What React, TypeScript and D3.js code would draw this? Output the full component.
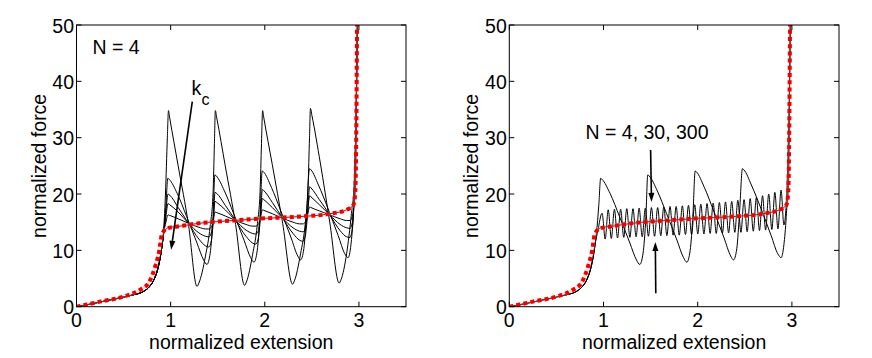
import React from "react";
import * as d3 from "d3";

type Pt = [number, number];

// axis ticks
const xTicks = [0, 1, 2, 3];
const yTicks = [0, 10, 20, 30, 40, 50];

// shared toe of the black curves (normalized extension, normalized force)
const toeBlack: Pt[] = [
  [0, 0], [0.1, 0.3], [0.2, 0.65], [0.3, 1.0], [0.4, 1.35], [0.5, 1.7],
  [0.6, 2.1], [0.7, 2.6], [0.76, 3.3], [0.82, 4.7], [0.86, 6.5], [0.89, 8.8], [0.91, 11],
];

// continuum limit (red dotted)
const redCurve: Pt[] = [
  [0, 0], [0.1, 0.35], [0.25, 0.9], [0.5, 1.8], [0.675, 3.0], [0.765, 4.2], [0.835, 7.1],
  [0.88, 10], [0.905, 12.7], [0.96, 13.9], [1.1, 14.3], [1.3, 14.8], [1.67, 15.3],
  [2.02, 15.7], [2.38, 16], [2.73, 16.6], [2.87, 17.2], [2.94, 18], [2.96, 20],
  [2.97, 27.8], [2.98, 50],
];

// smooth black curve (large k_c / N = 300)
const smoothTail: Pt[] = [
  [0.93, 13.2], [0.97, 14], [1.1, 14.3], [1.3, 14.8], [1.67, 15.3], [2.02, 15.7],
  [2.38, 16], [2.73, 16.6], [2.87, 17.2], [2.94, 18], [2.96, 20], [2.97, 27.8], [2.98, 50],
];

// N = 4 curves for increasing k_c
const kc1Tail: Pt[] = [
  [0.92, 12.5], [0.945, 20], [0.965, 30], [0.977, 34.8], [0.99, 33.5], [1.08, 25], [1.19, 14.5],
  [1.28, 3.6], [1.30, 4.2], [1.37, 9], [1.42, 14.3], [1.45, 20], [1.465, 29], [1.475, 34.8],
  [1.49, 33.5], [1.58, 25], [1.69, 14.6], [1.785, 3.8], [1.805, 4.4], [1.87, 9.2], [1.92, 14.5],
  [1.95, 20.5], [1.965, 29], [1.977, 34.8], [1.99, 33.5], [2.08, 25.2], [2.19, 14.8], [2.295, 4],
  [2.315, 4.6], [2.38, 9.4], [2.43, 14.8], [2.46, 21.5], [2.475, 30], [2.485, 35.2], [2.5, 34],
  [2.59, 25.5], [2.69, 15], [2.79, 4.2], [2.81, 4.8], [2.87, 9.5], [2.92, 16.5], [2.95, 22],
  [2.965, 30], [2.98, 45], [2.985, 50],
];
const kc2Tail: Pt[] = [
  [0.925, 13], [0.95, 18], [0.97, 22.8], [0.985, 22.6], [1.07, 20.1], [1.17, 16], [1.28, 11.3],
  [1.35, 8.3], [1.385, 7.5], [1.42, 9.5], [1.45, 16], [1.47, 23.4], [1.485, 23.2], [1.57, 20.6],
  [1.67, 16.5], [1.78, 11.8], [1.85, 8.7], [1.885, 7.9], [1.92, 10], [1.95, 16.5], [1.973, 24.1],
  [1.988, 23.9], [2.07, 21.2], [2.17, 17], [2.28, 12.2], [2.35, 9], [2.38, 8.3], [2.415, 10.3],
  [2.445, 17], [2.475, 24.5], [2.49, 24.3], [2.57, 21.6], [2.67, 17.5], [2.78, 12.6], [2.85, 9.4],
  [2.885, 8.7], [2.915, 11], [2.94, 16], [2.955, 21], [2.97, 32], [2.98, 45], [2.985, 50],
];
const kc3Tail: Pt[] = [
  [0.925, 13], [0.95, 17], [0.972, 20], [0.99, 19.8], [1.08, 17.6], [1.19, 14.8], [1.30, 12],
  [1.37, 10.8], [1.405, 10.6], [1.43, 11.5], [1.45, 14.5], [1.472, 20.3], [1.49, 20.1], [1.58, 18],
  [1.69, 15.3], [1.80, 12.5], [1.87, 11.3], [1.905, 11.1], [1.93, 12], [1.95, 15], [1.975, 20.8],
  [1.99, 20.6], [2.08, 18.5], [2.19, 15.7], [2.30, 13], [2.37, 11.8], [2.405, 11.6], [2.43, 12.5],
  [2.45, 15.5], [2.477, 21.3], [2.49, 21.1], [2.58, 19], [2.69, 16.3], [2.80, 13.5], [2.87, 12.4],
  [2.905, 12.3], [2.93, 14], [2.95, 20], [2.965, 30], [2.98, 45], [2.985, 50],
];
const kc4Tail: Pt[] = [
  [0.925, 13], [0.95, 16], [0.972, 18.3], [0.99, 18.1], [1.08, 16.8], [1.19, 14.8], [1.30, 13.1],
  [1.37, 12.5], [1.405, 12.4], [1.43, 13], [1.45, 15], [1.472, 18.7], [1.49, 18.5], [1.58, 17.2],
  [1.69, 15.3], [1.80, 13.6], [1.87, 13], [1.905, 12.9], [1.93, 13.4], [1.95, 15.5], [1.975, 19.2],
  [1.99, 19], [2.08, 17.6], [2.19, 15.7], [2.30, 14], [2.37, 13.4], [2.405, 13.3], [2.43, 13.8],
  [2.45, 16], [2.477, 19.7], [2.49, 19.5], [2.58, 18.1], [2.69, 16.3], [2.80, 14.6], [2.87, 14],
  [2.905, 13.9], [2.93, 15], [2.95, 20], [2.965, 30], [2.98, 45], [2.985, 50],
];
const kc5Tail: Pt[] = [
  [0.925, 13], [0.95, 15], [0.972, 16.3], [0.99, 16.2], [1.08, 15.6], [1.19, 14.8], [1.30, 14.1],
  [1.37, 13.8], [1.405, 13.8], [1.43, 14.1], [1.45, 15], [1.472, 16.8], [1.49, 16.7], [1.58, 16.1],
  [1.69, 15.3], [1.80, 14.6], [1.87, 14.3], [1.905, 14.3], [1.93, 14.6], [1.95, 15.5], [1.975, 17.2],
  [1.99, 17.1], [2.08, 16.5], [2.19, 15.7], [2.30, 15], [2.37, 14.7], [2.405, 14.7], [2.43, 15],
  [2.45, 16], [2.477, 17.7], [2.49, 17.6], [2.58, 17], [2.69, 16.3], [2.80, 15.6], [2.87, 15.3],
  [2.905, 15.3], [2.93, 16], [2.95, 20], [2.965, 30], [2.98, 45], [2.985, 50],
];

// N = 30 oscillation (right panel)
const n30Tail: Pt[] = [
  [0.94, 13.5], [0.985, 16.6], [1.018, 12.0], [1.05, 17.2], [1.083, 12.1], [1.116, 17.3], [1.149, 12.2],
  [1.182, 17.3], [1.215, 12.3], [1.247, 17.4], [1.28, 12.3], [1.313, 17.4], [1.346, 12.4],
  [1.378, 17.5], [1.411, 12.4], [1.444, 17.5], [1.477, 12.5], [1.509, 17.6], [1.542, 12.5],
  [1.575, 17.6], [1.608, 12.6], [1.64, 17.7], [1.673, 12.6], [1.706, 17.8], [1.739, 12.7],
  [1.771, 17.8], [1.804, 12.7], [1.837, 17.9], [1.87, 12.8], [1.902, 18.0], [1.935, 12.8],
  [1.968, 18.1], [2.001, 12.9], [2.033, 18.2], [2.066, 12.9], [2.099, 18.3], [2.132, 13.0],
  [2.164, 18.4], [2.197, 13.0], [2.23, 18.5], [2.263, 13.1], [2.295, 18.6], [2.328, 13.1],
  [2.361, 18.7], [2.394, 13.2], [2.426, 18.9], [2.459, 13.2], [2.492, 19.0], [2.525, 13.3],
  [2.557, 19.2], [2.59, 13.4], [2.623, 19.4], [2.656, 13.5], [2.688, 19.7], [2.721, 13.6],
  [2.754, 20.0], [2.787, 13.7], [2.819, 20.3], [2.852, 13.8], [2.885, 20.7], [2.915, 14.5],
  [2.945, 20], [2.96, 28], [2.975, 40], [2.985, 50],
];

const smooth = toeBlack.concat(smoothTail);
const kc1 = toeBlack.concat(kc1Tail);
const kc2 = toeBlack.concat(kc2Tail);
const kc3 = toeBlack.concat(kc3Tail);
const kc4 = toeBlack.concat(kc4Tail);
const kc5 = toeBlack.concat(kc5Tail);
const n30 = toeBlack.concat(n30Tail);

const FONT = "'Liberation Sans', Arial, Helvetica, sans-serif";
const TOP = 25;
const BOTTOM = 306.7;

function Arrow({ from, to }: { from: Pt; to: Pt }) {
  const [x1, y1] = from;
  const [x2, y2] = to;
  const a = Math.atan2(y2 - y1, x2 - x1);
  const len = 9, w = 3;
  const bx = x2 - len * Math.cos(a), by = y2 - len * Math.sin(a);
  const p = `${x2},${y2} ${bx + w * Math.sin(a)},${by - w * Math.cos(a)} ${bx - w * Math.sin(a)},${by + w * Math.cos(a)}`;
  return (
    <g>
      <line x1={x1} y1={y1} x2={bx} y2={by} stroke="#000" strokeWidth={1.6} />
      <polygon points={p} fill="#000" />
    </g>
  );
}

function Panel({ id, left, right, curves, children }: any) {
  const x = d3.scaleLinear().domain([0, 3.5]).range([left, right]);
  const y = d3.scaleLinear().domain([0, 50]).range([BOTTOM, TOP]);
  const line = d3.line<Pt>().x((d) => x(d[0])).y((d) => y(d[1])).curve(d3.curveMonotoneX);
  const ticklen = 5;
  return (
    <g fontFamily={FONT}>
      <defs>
        <clipPath id={id}>
          <rect x={left} y={TOP} width={right - left} height={BOTTOM - TOP} />
        </clipPath>
      </defs>
      <g clipPath={`url(#${id})`}>
        {curves.map((c: Pt[], i: number) => (
          <path key={i} d={line(c) || ""} fill="none" stroke="#000" strokeWidth={1} />
        ))}
        <path d={line(redCurve) || ""} fill="none" stroke="#f2b8b8" strokeWidth={4} opacity={0.35} />
        <path d={line(redCurve) || ""} fill="none" stroke="#f00000" strokeWidth={4} strokeDasharray="4 3.2" />
      </g>
      <rect x={left} y={TOP} width={right - left} height={BOTTOM - TOP} fill="none" stroke="#000" strokeWidth={1} />
      {xTicks.map((t) => (
        <g key={"x" + t}>
          <line x1={x(t)} x2={x(t)} y1={BOTTOM} y2={BOTTOM - ticklen} stroke="#000" />
          <line x1={x(t)} x2={x(t)} y1={TOP} y2={TOP + ticklen} stroke="#000" />
          <text x={x(t)} y={326.5} fontSize={19.5} textAnchor="middle">{t}</text>
        </g>
      ))}
      {yTicks.map((t) => (
        <g key={"y" + t}>
          <line x1={left} x2={left + ticklen} y1={y(t)} y2={y(t)} stroke="#000" />
          <line x1={right} x2={right - ticklen} y1={y(t)} y2={y(t)} stroke="#000" />
          <text x={left - 2.5} y={y(t) + 7.5} fontSize={19.5} textAnchor="end">{t}</text>
        </g>
      ))}
      <text x={(left + right) / 2} y={348.5} fontSize={19.5} textAnchor="middle">normalized extension</text>
      <text transform={`translate(${left - 31},${(TOP + BOTTOM) / 2}) rotate(-90)`} fontSize={19.5} textAnchor="middle">
        normalized force
      </text>
      {children(x, y)}
    </g>
  );
}

export default function App() {
  return (
    <svg width={872} height={358} style={{ position: "absolute", left: 0, top: 0, background: "#fff" }}>
      <rect width={872} height={358} fill="#fff" />
      <Panel id="clipL" left={76.5} right={406} curves={[smooth, kc5, kc4, kc3, kc2, kc1]}>
        {(x: any, y: any) => (
          <g fontFamily={FONT}>
            <text x={92.5} y={53.5} fontSize={19.5}>N = 4</text>
            <text x={191.5} y={95} fontSize={19.5}>k</text>
            <text x={201.5} y={105} fontSize={16}>c</text>
            <Arrow from={[x(1.23), y(36.4)]} to={[x(1.005), y(10.1)]} />
          </g>
        )}
      </Panel>
      <Panel id="clipR" left={509.3} right={839} curves={[smooth, n30, kc2]}>
        {(x: any, y: any) => (
          <g fontFamily={FONT}>
            <text x={585.5} y={138.5} fontSize={19.5}>N = 4, 30, 300</text>
            <Arrow from={[x(1.5), y(27.8)]} to={[x(1.51), y(18.6)]} />
            <Arrow from={[x(1.555), y(2.4)]} to={[x(1.55), y(11.5)]} />
          </g>
        )}
      </Panel>
    </svg>
  );
}
